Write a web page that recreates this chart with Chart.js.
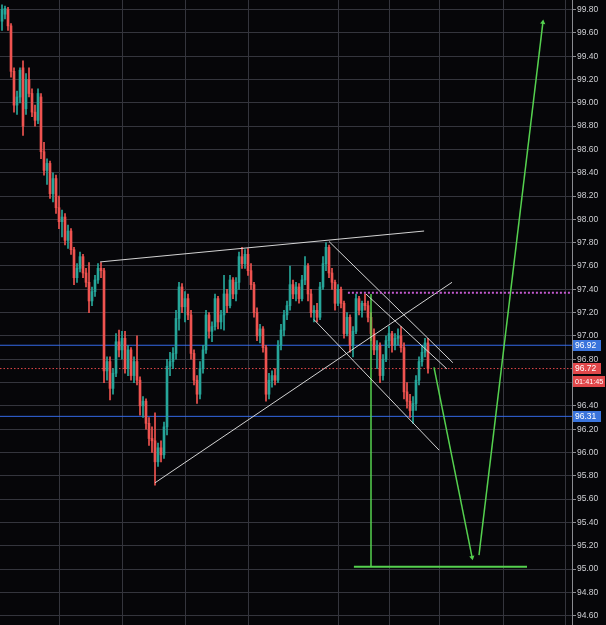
<!DOCTYPE html>
<html>
<head>
<meta charset="utf-8">
<script src="https://cdn.jsdelivr.net/npm/chart.js@4.4.0/dist/chart.umd.min.js"></script>
<style>
html,body{margin:0;padding:0;background:#060609;}
canvas{display:block;}
</style>
</head>
<body>
<canvas id="c" width="606" height="625"></canvas>
<script>
// ---- Candle data (one bar per index) ----
const openP  = [99.70,99.76,99.80,99.66,99.27,98.98,99.05,99.30,98.95,99.20,99.08,98.92,98.85,99.05,98.58,98.42,98.48,98.22,98.35,98.10,
97.98,98.02,97.82,97.90,97.74,97.50,97.58,97.68,97.54,97.46,97.30,97.38,97.48,97.58,97.56,96.70,96.78,96.55,96.68,96.95,
96.88,96.98,96.72,96.88,96.66,96.78,96.62,96.40,96.44,96.25,96.12,96.10,95.92,96.04,95.98,96.22,96.74,96.78,96.85,97.15,
97.42,97.25,97.32,97.18,96.85,96.62,96.50,96.72,96.88,97.18,97.04,97.08,97.32,97.12,97.18,97.36,97.26,97.48,97.36,97.46,
97.68,97.62,97.70,97.56,97.44,97.20,97.00,97.06,96.90,96.50,96.62,96.66,96.62,96.92,97.05,97.18,97.26,97.44,97.36,97.42,
97.32,97.48,97.60,97.36,97.20,97.22,97.16,97.42,97.62,97.76,97.54,97.46,97.28,97.40,97.28,97.02,97.16,96.92,97.04,97.32,
97.22,97.28,97.26,97.16,97.02,96.88,96.92,96.66,96.80,96.96,97.02,96.92,96.98,97.00,96.90,96.52,96.44,96.36,96.42,96.62,
96.78,96.86,96.94];
const highP  = [99.84,99.83,99.82,99.68,99.30,99.10,99.30,99.36,99.25,99.30,99.12,98.98,99.12,99.08,98.66,98.52,98.50,98.40,98.38,98.20,
98.08,98.05,97.95,97.92,97.76,97.62,97.72,97.70,97.58,97.63,97.42,97.52,97.62,97.63,97.58,96.82,96.82,96.72,97.02,97.05,
97.04,97.04,96.92,96.90,96.82,97.00,96.65,96.48,96.46,96.30,96.22,96.34,96.08,96.10,96.26,96.80,96.86,96.90,97.22,97.46,
97.45,97.38,97.36,97.22,96.88,96.66,96.78,96.92,97.22,97.20,97.12,97.36,97.34,97.22,97.52,97.40,97.52,97.50,97.50,97.72,
97.76,97.74,97.75,97.62,97.46,97.24,97.10,97.08,96.92,96.68,96.70,96.72,96.96,97.10,97.22,97.30,97.60,97.48,97.46,97.45,
97.52,97.68,97.62,97.40,97.26,97.28,97.46,97.68,97.80,97.78,97.58,97.48,97.44,97.42,97.30,97.20,97.18,97.08,97.36,97.34,
97.30,97.36,97.30,97.20,97.06,96.96,96.94,96.84,97.00,97.08,97.04,97.02,97.06,97.08,96.94,96.60,96.50,96.48,96.66,96.82,
96.92,96.98,96.98];
const lowP   = [99.62,99.72,99.62,99.22,98.92,98.90,99.00,98.72,98.90,99.05,98.88,98.80,98.82,98.52,98.38,98.30,98.18,98.15,98.05,97.92,
97.85,97.78,97.75,97.70,97.44,97.46,97.55,97.50,97.42,97.20,97.26,97.34,97.45,97.50,96.60,96.62,96.45,96.50,96.65,96.82,
96.80,96.68,96.66,96.62,96.60,96.58,96.32,96.30,96.20,96.06,96.00,95.72,95.88,95.92,95.95,96.15,96.66,96.72,96.80,97.05,
97.20,97.12,97.14,96.80,96.58,96.42,96.46,96.68,96.85,96.98,96.95,97.05,97.06,97.06,97.05,97.20,97.24,97.32,97.30,97.40,
97.58,97.58,97.52,97.40,97.16,96.96,96.94,96.86,96.44,96.46,96.56,96.58,96.60,96.88,97.00,97.14,97.22,97.32,97.30,97.28,
97.30,97.44,97.30,97.16,97.12,97.12,97.14,97.40,97.56,97.50,97.40,97.22,97.26,97.24,96.98,97.00,96.86,96.82,97.02,97.18,
97.16,97.22,97.12,96.96,96.84,96.72,96.60,96.62,96.78,96.90,96.86,96.88,96.92,96.86,96.46,96.38,96.30,96.25,96.36,96.58,
96.74,96.82,96.68];
const closeP = [99.80,99.81,99.66,99.27,98.98,99.05,99.28,98.80,99.20,99.08,98.92,98.85,99.08,98.58,98.42,98.48,98.22,98.35,98.10,97.98,
98.02,97.82,97.90,97.74,97.50,97.58,97.68,97.54,97.46,97.30,97.38,97.48,97.58,97.56,96.70,96.78,96.55,96.68,96.95,96.88,
96.98,96.72,96.88,96.66,96.78,96.62,96.40,96.44,96.25,96.12,96.10,95.92,96.04,95.98,96.22,96.74,96.78,96.85,97.15,97.42,
97.25,97.32,97.18,96.85,96.62,96.50,96.72,96.88,97.18,97.04,97.08,97.32,97.12,97.18,97.36,97.26,97.48,97.36,97.46,97.68,
97.62,97.70,97.56,97.44,97.20,97.00,97.06,96.90,96.50,96.62,96.66,96.62,96.92,97.05,97.18,97.26,97.44,97.36,97.42,97.32,
97.48,97.60,97.36,97.20,97.22,97.16,97.42,97.62,97.76,97.54,97.46,97.28,97.40,97.28,97.02,97.16,96.92,97.04,97.32,97.22,
97.28,97.26,97.16,97.02,96.88,96.92,96.66,96.80,96.96,97.02,96.92,96.98,97.00,96.90,96.52,96.44,96.36,96.42,96.62,96.78,
96.86,96.94,96.72];

// ---- Price axis tick labels ----
const yTicks = [94.60,94.80,95.00,95.20,95.40,95.60,95.80,96.00,96.20,96.40,96.60,96.80,97.00,97.20,97.40,97.60,97.80,98.00,98.20,98.40,98.60,98.80,99.00,99.20,99.40,99.60,99.80];

// ---- Drawn trend lines (bar index, price) ----
const resistanceLine = [[32.7,97.635],[140.7,97.90]];
const risingLine     = [[51.0,95.74],[150.0,97.46]];
const channelTop     = [[109.0,97.81],[150.3,96.77]];
const channelInner   = [[121.3,97.36],[148.3,96.717]];
const channelBottom  = [[104.0,97.14],[145.7,96.02]];
const targetVertical = [[123.0,97.36],[123.0,95.02]];
const targetFloor    = [[117.3,95.02],[175.0,95.02]];
const projectionDown = [[144.0,96.73],[156.7,95.10]];
const projectionUp   = [[159.0,95.12],[180.3,99.69]];
const purpleLevel    = [[115.3,97.37],[190.0,97.37]];

// ---- Price lines and tags ----
const blueLevels = [96.92, 96.31];
const lastPrice = 96.72;
const countdown = '01:41:45';

const X_MIN = -0.67, X_MAX = 190;
const xGrid = [19, 40, 61.3, 82.3, 112, 129, 145.7, 167, 187.7];

const UP = '#26a69a', DOWN = '#ef5350';
const idx = openP.map((_, i) => i);
const candleColors = idx.map(i => closeP[i] >= openP[i] ? UP : DOWN);

function seg(pts, color, width, dash, extra) {
  return Object.assign({
    type: 'line',
    data: pts.map(p => ({x: p[0], y: p[1]})),
    borderColor: color,
    borderWidth: width,
    borderDash: dash || [],
    pointRadius: 0,
    fill: false,
    tension: 0,
    order: 0
  }, extra || {});
}

const WHITE = 'rgba(228,228,228,0.92)';
const GREEN = '#55d14f';
const BLUE = '#3469e6';

const datasets = [
  {
    type: 'bar',
    data: idx.map(i => ({x: i, y: [lowP[i], highP[i]]})),
    backgroundColor: candleColors,
    barThickness: 1,
    grouped: false,
    borderWidth: 0,
    order: 20
  },
  {
    type: 'bar',
    data: idx.map(i => ({x: i, y: [openP[i], closeP[i]]})),
    backgroundColor: candleColors,
    barThickness: 2,
    grouped: false,
    borderWidth: 0,
    order: 19
  },
  seg([[X_MIN, blueLevels[0]],[X_MAX, blueLevels[0]]], BLUE, 1, [], {order: 25}),
  seg([[X_MIN, blueLevels[1]],[X_MAX, blueLevels[1]]], BLUE, 1, [], {order: 25}),
  seg([[X_MIN, lastPrice],[X_MAX, lastPrice]], '#e0474a', 1, [1.5, 2], {order: 25}),
  seg(purpleLevel, '#c45ad0', 2, [2, 2]),
  seg(resistanceLine, WHITE, 1),
  seg(risingLine, WHITE, 1),
  seg(channelTop, WHITE, 1),
  seg(channelInner, WHITE, 1),
  seg(channelBottom, WHITE, 1),
  seg(targetVertical, GREEN, 1.5),
  seg(targetFloor, GREEN, 2),
  seg(projectionDown, GREEN, 1.5, [], {pointRadius: [0, 3], pointStyle: 'triangle', rotation: [0, 168.6], pointBackgroundColor: GREEN, pointBorderColor: GREEN, pointBorderWidth: 0}),
  seg(projectionUp, GREEN, 1.5, [], {pointRadius: [0, 3], pointStyle: 'triangle', rotation: [0, 6.9], pointBackgroundColor: GREEN, pointBorderColor: GREEN, pointBorderWidth: 0})
];

const bgPlugin = {
  id: 'bg',
  beforeDraw(chart) {
    const ctx = chart.ctx;
    ctx.save();
    ctx.fillStyle = '#060609';
    ctx.fillRect(0, 0, chart.width, chart.height);
    ctx.restore();
  }
};

const tagPlugin = {
  id: 'tags',
  afterDraw(chart) {
    const ctx = chart.ctx;
    const y = chart.scales.y;
    const x0 = chart.chartArea.right + 1;
    ctx.save();
    ctx.textBaseline = 'middle';
    function tag(val, text, color, dy, w, size) {
      const py = y.getPixelForValue(val) + (dy || 0);
      ctx.fillStyle = color;
      ctx.fillRect(x0, Math.round(py - 5.5), w, 11);
      ctx.fillStyle = '#ffffff';
      ctx.font = size + 'px "Liberation Sans", Arial, sans-serif';
      ctx.fillText(text, x0 + 2, py + 0.5);
    }
    tag(blueLevels[0], blueLevels[0].toFixed(2), '#3a74dc', 0, 28, 8.5);
    tag(blueLevels[1], blueLevels[1].toFixed(2), '#3a74dc', 0, 28, 8.5);
    tag(lastPrice, lastPrice.toFixed(2), '#e0474a', 0, 28, 8.5);
    tag(lastPrice, countdown, '#e0474a', 12.5, 32, 7.3);
    ctx.restore();
  }
};

new Chart(document.getElementById('c'), {
  type: 'bar',
  data: {datasets},
  options: {
    responsive: false,
    animation: false,
    devicePixelRatio: 1,
    layout: {padding: 0, autoPadding: false},
    plugins: {legend: {display: false}, tooltip: {enabled: false}},
    scales: {
      x: {
        type: 'linear',
        min: X_MIN, max: X_MAX,
        bounds: 'data',
        offset: false,
        afterBuildTicks: s => { s.ticks = xGrid.map(v => ({value: v})); },
        afterFit: s => { s.height = 0; s.paddingLeft = 0; s.paddingRight = 0; },
        ticks: {display: false},
        grid: {color: '#34353d', lineWidth: 1, drawTicks: false, offset: false},
        border: {display: false}
      },
      y: {
        type: 'linear',
        position: 'right',
        min: 94.52, max: 99.882,
        bounds: 'data',
        beginAtZero: false,
        afterBuildTicks: s => { s.ticks = yTicks.map(v => ({value: v})); },
        afterFit: s => { s.width = 34; s.paddingTop = 0; s.paddingBottom = 0; },
        ticks: {
          color: '#cfd0d4',
          font: {family: '"Liberation Sans", Arial, sans-serif', size: 8.5},
          padding: 1,
          callback: v => Number(v).toFixed(2)
        },
        grid: {color: '#34353d', lineWidth: 1, tickLength: 4, tickColor: '#8a8b90'},
        border: {color: '#8a8b90', width: 1}
      }
    }
  },
  plugins: [bgPlugin, tagPlugin]
});
</script>
</body>
</html>
